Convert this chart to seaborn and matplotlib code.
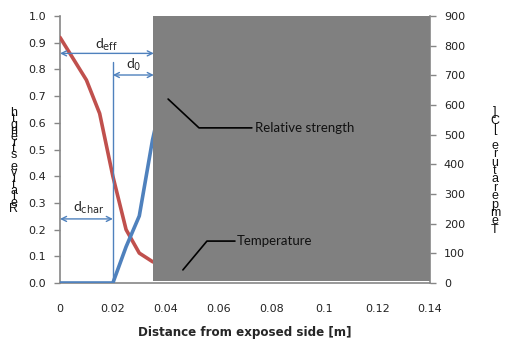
import matplotlib
matplotlib.use("Agg")
import matplotlib.pyplot as plt
import seaborn as sns
import pandas as pd
from matplotlib.patches import Rectangle

# Data
dist_strength = [0.0, 0.005, 0.01, 0.015, 0.02, 0.025, 0.03, 0.035, 0.04, 0.05, 0.06, 0.08, 0.10, 0.12, 0.14]
rel_strength = [0.92, 0.84, 0.76, 0.635, 0.40, 0.20, 0.112, 0.08, 0.06, 0.045, 0.035, 0.028, 0.025, 0.023, 0.022]
dist_temp = [0.0, 0.005, 0.01, 0.015, 0.02, 0.025, 0.03, 0.035, 0.04, 0.045, 0.05, 0.06, 0.08, 0.10, 0.12, 0.14]
temperature = [0, 0, 0, 0, 0, 122, 226, 482, 680, 850, 900, 900, 900, 900, 900, 900]
x_ticks = [0, 0.02, 0.04, 0.06, 0.08, 0.1, 0.12, 0.14]
x_tick_labels = ["0", "0.02", "0.04", "0.06", "0.08", "0.1", "0.12", "0.14"]
left_ticks = [0.0, 0.1, 0.2, 0.3, 0.4, 0.5, 0.6, 0.7, 0.8, 0.9, 1.0]
right_ticks = [0, 100, 200, 300, 400, 500, 600, 700, 800, 900]

sns.set_style("white")
plt.rcParams['font.family'] = ['DejaVu Sans']

RED = "#C0504D"
BLUE = "#4F81BD"
GRAYSP = "#868686"

fig = plt.figure(figsize=(5.10, 3.52), dpi=100)
ax = fig.add_axes([60/510, 69/352, 370/510, 267/352])
ax2 = ax.twinx()

df_s = pd.DataFrame({"x": dist_strength, "y": rel_strength})
df_t = pd.DataFrame({"x": dist_temp, "y": temperature})
sns.lineplot(data=df_s, x="x", y="y", ax=ax, color=RED, linewidth=2.6, zorder=3)
sns.lineplot(data=df_t, x="x", y="y", ax=ax2, color=BLUE, linewidth=2.6, zorder=3)

ax.set_xlim(0, 0.14)
ax.set_ylim(0, 1.0)
ax2.set_ylim(0, 900)
ax.set_xticks(x_ticks)
ax.set_xticklabels(x_tick_labels)
ax.set_yticks(left_ticks)
ax.set_yticklabels([f"{v:.1f}" for v in left_ticks])
ax2.set_yticks(right_ticks)
ax2.set_yticklabels([str(v) for v in right_ticks])
ax.set_ylabel("")
ax2.set_ylabel("")
ax.set_xlabel("Distance from exposed side [m]", fontsize=8.6, fontweight="bold", labelpad=9)

for a in (ax, ax2):
    for s in a.spines.values():
        s.set_visible(False)
    a.tick_params(axis="both", labelsize=8, colors=GRAYSP, labelcolor="#222222",
                  length=4, width=1, direction="out", pad=6)
ax.spines["left"].set_visible(True)
ax.spines["bottom"].set_visible(True)
ax2.spines["right"].set_visible(True)
for s in (ax.spines["left"], ax.spines["bottom"], ax2.spines["right"]):
    s.set_color(GRAYSP)
    s.set_linewidth(1.2)
ax.tick_params(axis="x", length=4, pad=11)
ax.tick_params(axis="y", left=True, length=4)
ax2.tick_params(axis="y", right=True, length=4)

# gray block
ax2.add_patch(Rectangle((0.035, 0.0075 * 900), 0.105, 0.9925 * 900,
                        facecolor="#808080", edgecolor="none", zorder=5))

T = ax.transData
lw_thin = 1.0
arrow_kw = dict(arrowstyle="<->", color=BLUE, lw=lw_thin, shrinkA=0, shrinkB=0,
                mutation_scale=9)
# d_eff
ax2.annotate("", xy=(0.0355, 0.86), xytext=(0.0, 0.86), xycoords=T, textcoords=T,
             arrowprops=arrow_kw, zorder=6)
ax2.text(0.0174, 0.893, r"d$_{\rm eff}$", transform=T, ha="center", va="center",
         fontsize=10, fontfamily="Lato", zorder=7)
# d_0
ax2.plot([0.02, 0.02], [0.0, 0.828], transform=T, color=BLUE, lw=lw_thin, zorder=6)
ax2.annotate("", xy=(0.0355, 0.779), xytext=(0.02, 0.779), xycoords=T, textcoords=T,
             arrowprops=arrow_kw, zorder=6)
ax2.text(0.0277, 0.816, r"d$_{\rm 0}$", transform=T, ha="center", va="center",
         fontsize=10, fontfamily="Lato", zorder=7)
# d_char
ax2.annotate("", xy=(0.02, 0.24), xytext=(0.0, 0.24), xycoords=T, textcoords=T,
             arrowprops=arrow_kw, zorder=6)
ax2.text(0.011, 0.281, r"d$_{\rm char}$", transform=T, ha="center", va="center",
         fontsize=10, fontfamily="Lato", zorder=7)

# callouts
ax2.plot([0.0409, 0.0526, 0.0726], [0.689, 0.581, 0.581], transform=T,
         color="black", lw=1.2, zorder=7)
ax2.text(0.0737, 0.581, "Relative strength", transform=T, ha="left", va="center",
         fontsize=9.5, fontfamily="Lato", color="#111111", zorder=8)
ax2.plot([0.0465, 0.0556, 0.0662], [0.049, 0.157, 0.157], transform=T,
         color="black", lw=1.2, zorder=7)
ax2.text(0.0670, 0.157, "Temperature", transform=T, ha="left", va="center",
         fontsize=9.5, fontfamily="Lato", color="#111111", zorder=8)

# stacked axis labels
left_lbl = "\n".join(reversed("Relative strength"))
right_lbl = "\n".join(reversed("Temperature [C]"))
fig.text(14/510, 1 - 161/352, left_lbl, ha="center", va="center", fontsize=9,
         linespacing=0.34, fontfamily="Liberation Sans", color="#111111")
fig.text(495/510, 1 - 171/352, right_lbl, ha="center", va="center", fontsize=9,
         linespacing=0.6, fontfamily="Liberation Sans", color="#111111")

fig.savefig("out.png", dpi=100)
